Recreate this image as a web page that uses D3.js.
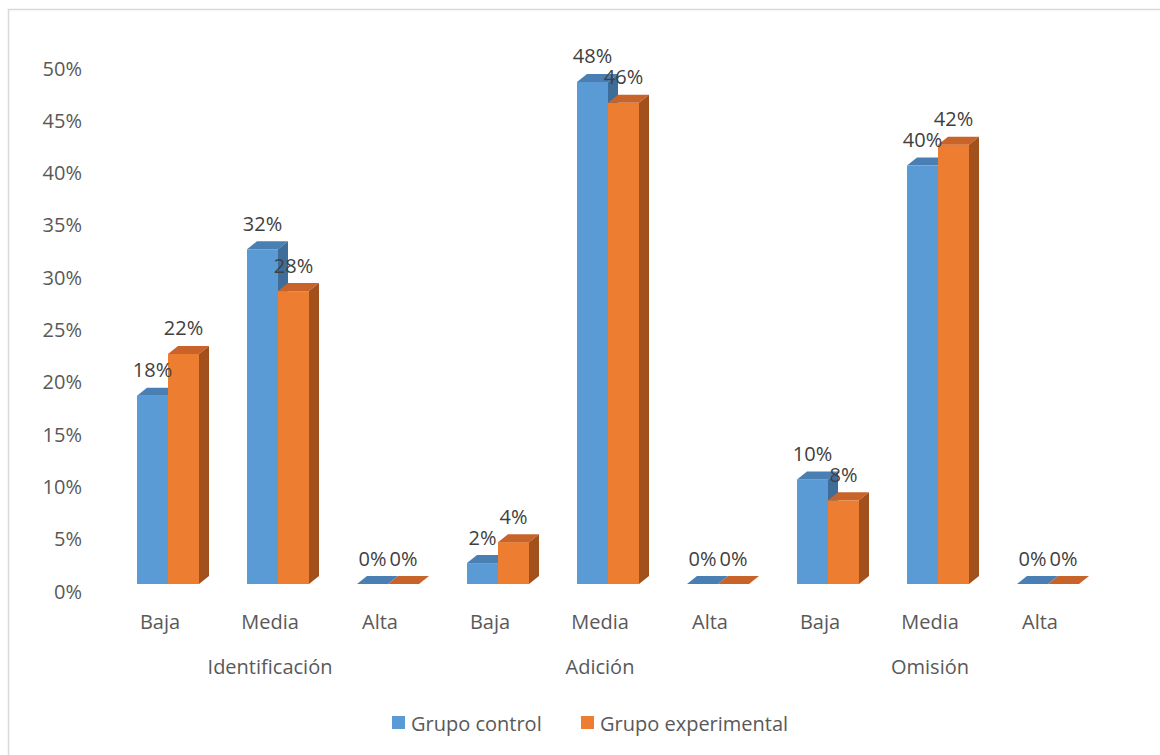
<!DOCTYPE html>
<html>
<head>
<meta charset="utf-8">
<script src="https://cdn.jsdelivr.net/npm/d3@7"></script>
<style>
  body { margin: 0; background: #fff; }
  text { font-family: "Open Sans", "Noto Sans", sans-serif; fill: #595959; }
</style>
</head>
<body>
<div id="chart"></div>
<script>
'use strict';

var groups       = ['Identificación', 'Adición', 'Omisión'];
var levels       = ['Baja', 'Media', 'Alta'];
var seriesNames  = ['Grupo control', 'Grupo experimental'];
var control      = [0.18, 0.32, 0, 0.02, 0.48, 0, 0.10, 0.40, 0];
var experimental = [0.22, 0.28, 0, 0.04, 0.46, 0, 0.08, 0.42, 0];
var yTicks       = [0, 0.05, 0.10, 0.15, 0.20, 0.25, 0.30, 0.35, 0.40, 0.45, 0.50];

var W = 1160, H = 755;
var depthX = 10, depthY = 8;
var fontSize = '20px';
var colors = [
    {front: '#5b9bd5', top: '#4a7fb3', side: '#3f6d9a'},
    {front: '#ed7d31', top: '#c8632a', side: '#a2511d'}
];

var svg = d3.select('#chart').append('svg')
    .attr('width', W)
    .attr('height', H);

// chart border
svg.append('rect')
    .attr('x', 8.5).attr('y', 9.5)
    .attr('width', W).attr('height', H)
    .attr('fill', 'none')
    .attr('stroke', '#d9d9d9')
    .attr('stroke-width', 1.5);

// x scale over the 9 sub categories
var keys = [];
groups.forEach(function(g){ levels.forEach(function(l){ keys.push(g + '|' + l); }); });

var xScale = d3.scaleBand().domain(keys).range([105, 1095]).padding(0);
var xInner = d3.scaleBand().domain([0, 1]).range([0, 62]);
var yScale = d3.scaleLinear().domain([0, 0.5]).range([584, 61]);

var pct = d3.format('.0%');

// y labels
svg.append('g').selectAll('text')
    .data(yTicks)
    .enter().append('text')
    .attr('x', 82)
    .attr('y', function(d){ return yScale(d) + 7; })
    .attr('text-anchor', 'end')
    .attr('dominant-baseline', 'central')
    .style('font-size', fontSize)
    .text(function(d){ return pct(d); });

// bars
var rows = keys.map(function(k, i){ return {key: k, vals: [control[i], experimental[i]]}; });

function barStart(d){ return xScale(d.key) + xScale.bandwidth() / 2 - 23; }

[0, 1].forEach(function(s)
{
    var g = svg.append('g').attr('class', 'series' + s);
    var w = xInner.bandwidth();

    rows.forEach(function(d)
    {
        var x0 = barStart(d) + xInner(s);
        var y0 = yScale(d.vals[s]);
        var yb = yScale(0);

        g.append('rect')
            .attr('x', x0).attr('y', y0)
            .attr('width', w).attr('height', yb - y0)
            .attr('fill', colors[s].front);

        g.append('path')
            .attr('d', 'M' + x0 + ',' + y0 + 'L' + (x0 + depthX) + ',' + (y0 - depthY) +
                       'L' + (x0 + w + depthX) + ',' + (y0 - depthY) + 'L' + (x0 + w) + ',' + y0 + 'Z')
            .attr('fill', colors[s].top);

        g.append('path')
            .attr('d', 'M' + (x0 + w) + ',' + y0 + 'L' + (x0 + w + depthX) + ',' + (y0 - depthY) +
                       'L' + (x0 + w + depthX) + ',' + (yb - depthY) + 'L' + (x0 + w) + ',' + yb + 'Z')
            .attr('fill', colors[s].side);
    });
});

// data labels
[0, 1].forEach(function(s)
{
    svg.append('g').selectAll('text')
        .data(rows)
        .enter().append('text')
        .attr('x', function(d){ return barStart(d) + xInner(s) + xInner.bandwidth() / 2; })
        .attr('y', function(d){ return yScale(d.vals[s]) - 26; })
        .attr('text-anchor', 'middle')
        .attr('dominant-baseline', 'central')
        .style('font-size', fontSize)
        .style('fill', '#404040')
        .text(function(d){ return pct(d.vals[s]); });
});

// category labels
svg.append('g').selectAll('text')
    .data(keys)
    .enter().append('text')
    .attr('x', function(d){ return xScale(d) + xScale.bandwidth() / 2; })
    .attr('y', 621)
    .attr('text-anchor', 'middle')
    .attr('dominant-baseline', 'central')
    .style('font-size', fontSize)
    .text(function(d){ return d.split('|')[1]; });

svg.append('g').selectAll('text')
    .data(groups)
    .enter().append('text')
    .attr('x', function(g){ return xScale(g + '|' + levels[1]) + xScale.bandwidth() / 2; })
    .attr('y', 666)
    .attr('text-anchor', 'middle')
    .attr('dominant-baseline', 'central')
    .style('font-size', fontSize)
    .text(function(g){ return g; });

// legend
var legendX = [392, 581];
var legend = svg.append('g').selectAll('g')
    .data(seriesNames)
    .enter().append('g')
    .attr('transform', function(d, i){ return 'translate(' + legendX[i] + ',716)'; });

legend.append('rect')
    .attr('width', 13).attr('height', 13)
    .attr('fill', function(d, i){ return colors[i].front; });

legend.append('text')
    .attr('x', 19).attr('y', 7)
    .attr('dominant-baseline', 'central')
    .style('font-size', fontSize)
    .text(function(d){ return d; });
</script>
</body>
</html>
